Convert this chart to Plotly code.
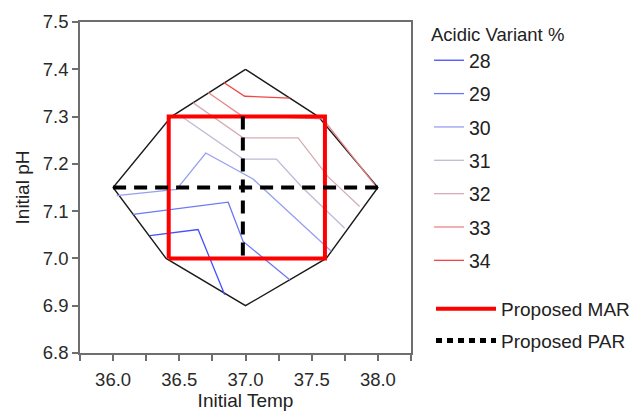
import plotly.graph_objects as go

# ---- data ----
levels = ["28", "29", "30", "31", "32", "33", "34"]
level_colors = ["#4450ff", "#6a78f6", "#979ff0", "#bbbbd4", "#d8acb4", "#ea8686", "#f04646"]
contour_x = [
    [36.278, 36.642, 36.843],
    [36.152, 36.869, 36.982, 37.334],
    [36.027, 36.479, 36.700, 37.057, 37.183, 37.648],
    [36.517, 36.982, 37.233, 37.422, 37.749],
    [36.605, 36.982, 37.397, 37.623, 37.862],
    [36.718, 36.969, 37.585, 37.975],
    [36.836, 36.994, 37.334],
]
contour_y = [
    [7.048, 7.061, 6.923],
    [7.093, 7.119, 7.036, 6.955],
    [7.133, 7.146, 7.223, 7.168, 7.135, 7.015],
    [7.300, 7.210, 7.210, 7.152, 7.064],
    [7.329, 7.255, 7.255, 7.173, 7.110],
    [7.351, 7.302, 7.295, 7.156],
    [7.372, 7.343, 7.339],
]
region_x = [37.0, 36.44, 36.0, 36.40, 37.0, 37.61, 38.0, 37.55, 37.0]
region_y = [7.40, 7.30, 7.15, 7.00, 6.90, 7.00, 7.15, 7.30, 7.40]
mar_x = [36.42, 37.60, 37.60, 36.42, 36.42]
mar_y = [7.00, 7.00, 7.30, 7.30, 7.00]
par_h_x = [36.0, 38.0]
par_h_y = [7.15, 7.15]
par_v_x = [36.98, 36.98]
par_v_y = [7.30, 7.00]

font = "Liberation Sans, Arial, sans-serif"

fig = go.Figure()
fig.add_trace(go.Scatter(x=region_x, y=region_y, mode="lines",
                         line=dict(color="#1a1a1a", width=1.4), showlegend=False, hoverinfo="skip"))
for i, lv in enumerate(levels):
    fig.add_trace(go.Scatter(x=contour_x[i], y=contour_y[i], mode="lines", name=lv,
                             line=dict(color=level_colors[i], width=1.3),
                             legend="legend", legendgroup="g" + lv))
fig.add_trace(go.Scatter(x=mar_x, y=mar_y, mode="lines", line=dict(color="#ff0000", width=4),
                         showlegend=False))
fig.add_trace(go.Scatter(x=par_h_x, y=par_h_y, mode="lines",
                         line=dict(color="black", width=4, dash="13px,8px"), showlegend=False))
fig.add_trace(go.Scatter(x=par_v_x, y=par_v_y, mode="lines",
                         line=dict(color="black", width=4, dash="13px,8px"), showlegend=False))
# legend-only entries
fig.add_trace(go.Scatter(x=[None], y=[None], mode="lines", name="Proposed MAR",
                         line=dict(color="#ff0000", width=4), legend="legend2", legendgroup="mar"))
fig.add_trace(go.Scatter(x=[None], y=[None], mode="lines", name="Proposed PAR",
                         line=dict(color="black", width=5, dash="6px,5px"), legend="legend2", legendgroup="par"))

axis_common = dict(showline=True, linecolor="#6e6e6e", linewidth=1.5, mirror=True,
                   ticks="outside", ticklen=6, tickwidth=1.5, tickcolor="#6e6e6e",
                   showgrid=False, zeroline=False, automargin=False,
                   tickfont=dict(family=font, size=18.5, color="#2a2a2a"),
                   title_font=dict(family=font, size=19, color="#222222"))

fig.update_layout(
    width=637, height=411,
    margin=dict(l=80, r=225.5, t=22.3, b=57.7),
    paper_bgcolor="white", plot_bgcolor="white",
    xaxis=dict(range=[35.75, 38.25], dtick=0.5, tick0=36, tickformat=".1f",
               ticklabelstandoff=3,
               title=dict(text="Initial Temp", standoff=14),
               minor=dict(dtick=0.25, tick0=35.75, ticks="outside", ticklen=6, tickcolor="#6e6e6e", tickwidth=1.5),
               **axis_common),
    yaxis=dict(range=[6.8, 7.5], dtick=0.1, tick0=6.8, tickformat=".1f",
               title=dict(text="Initial pH", standoff=8),
               **axis_common),
    legend=dict(xref="container", yref="container", x=0.6735, y=0.9586,
                xanchor="left", yanchor="top", maxheight=400,
                title=dict(text="Acidic Variant %", font=dict(family=font, size=18.5, color="#222222")),
                font=dict(family=font, size=19.5, color="#222222"),
                traceorder="grouped", tracegroupgap=5, bgcolor="rgba(0,0,0,0)"),
    legend2=dict(xref="container", yref="container", x=0.6766, y=0.2944,
                 xanchor="left", yanchor="top", itemwidth=60, maxheight=400,
                 font=dict(family=font, size=19, color="#222222"),
                 traceorder="grouped", tracegroupgap=4, bgcolor="rgba(0,0,0,0)"),
)

fig.write_html("out.html", config={"displayModeBar": False},
               post_script="document.body.style.margin='0';")
